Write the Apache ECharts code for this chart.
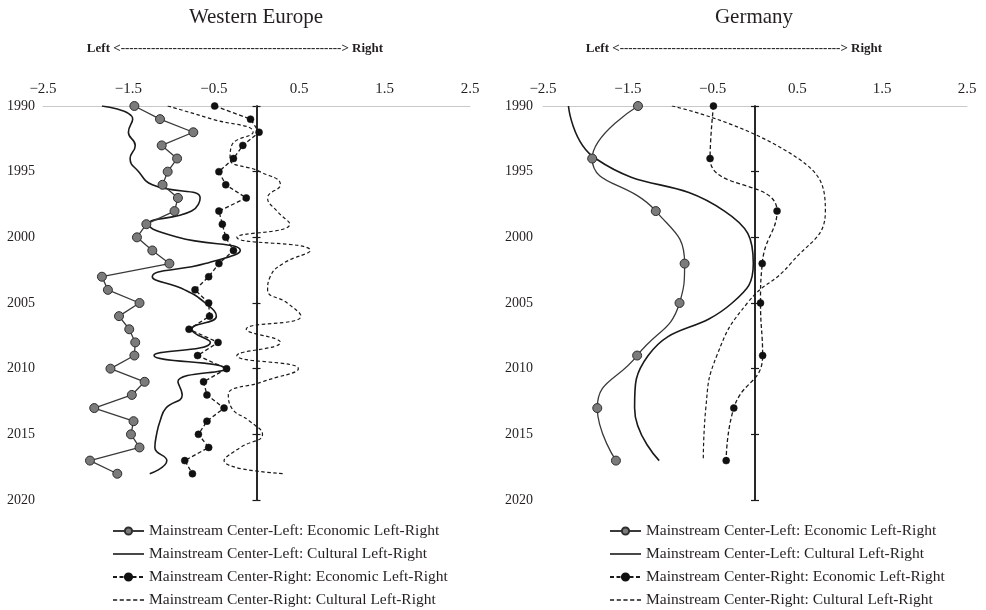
<!DOCTYPE html>
<html><head><meta charset="utf-8">
<script src="https://cdn.jsdelivr.net/npm/echarts@6/dist/echarts.min.js"></script>
<style>html,body{margin:0;padding:0;background:#fff}#c{width:986px;height:610px}</style>
</head><body><div id="c"></div>
<script>
// ---- data ----
const weYears = [1990,1991,1992,1993,1994,1995,1996,1997,1998,1999,2000,2001,2002,2003,2004,2005,2006,2007,2008,2009,2010,2011,2012,2013,2014,2015,2016,2017,2018];
const weCLecon = [-1.43,-1.13,-0.74,-1.11,-0.93,-1.04,-1.10,-0.92,-0.96,-1.29,-1.40,-1.22,-1.02,-1.81,-1.74,-1.37,-1.61,-1.49,-1.42,-1.43,-1.71,-1.31,-1.46,-1.90,-1.44,-1.47,-1.37,-1.95,-1.63];
const weCLcult = [-1.81,-1.45,-1.50,-1.42,-1.48,-1.38,-1.22,-0.66,-0.76,-1.26,-0.92,-0.19,-0.60,-1.22,-0.84,-0.60,-0.47,-0.76,-0.54,-1.20,-0.37,-0.92,-0.87,-1.06,-1.13,-1.17,-1.19,-1.05,-1.25];
const weCRecon = [-0.49,-0.07,0.03,-0.16,-0.27,-0.44,-0.36,-0.12,-0.44,-0.40,-0.36,-0.27,-0.44,-0.56,-0.72,-0.56,-0.55,-0.79,-0.45,-0.69,-0.35,-0.62,-0.58,-0.38,-0.58,-0.68,-0.56,-0.84,-0.75];
const weCRcult = [-1.04,-0.52,-0.04,-0.29,-0.31,0.04,0.28,0.13,0.24,0.39,-0.23,0.63,0.31,0.16,0.13,0.36,0.52,-0.12,0.28,-0.23,0.49,0.07,-0.33,-0.29,-0.08,0.07,-0.19,-0.38,0.33];

const deYears = [1990,1994,1998,2002,2005,2009,2013,2017];
const deCLecon = [-1.38,-1.92,-1.17,-0.83,-0.89,-1.39,-1.86,-1.64];
const deCLcult = [-2.20,-1.88,-0.36,-0.02,-0.27,-1.26,-1.42,-1.13];
const deCRecon = [-0.49,-0.53,0.26,0.085,0.065,0.09,-0.25,-0.34];
const deCRcult = [-0.98,0.51,0.83,0.42,-0.09,-0.45,-0.58,-0.61];

const panelTitles = ['Western Europe','Germany'];
const seriesNames = [
  'Mainstream Center-Left: Economic Left-Right',
  'Mainstream Center-Left: Cultural Left-Right',
  'Mainstream Center-Right: Economic Left-Right',
  'Mainstream Center-Right: Cultural Left-Right'
];
const xTickLabels = {'-2.5':'−2.5','-1.5':'−1.5','-0.5':'−0.5','0.5':'0.5','1.5':'1.5','2.5':'2.5'};
const directionLabel = 'Left <---------------------------------------------------> Right';

// ---- chart ----
const FONT = '"Liberation Serif", "DejaVu Serif", serif';
const INK = '#231f20';
const chart = echarts.init(document.getElementById('c'), null, {renderer:'canvas'});
const pairs = (vals, yrs) => vals.map((v,i) => [v, yrs[i]]);

const grids = [
  {left: 43, right: 516, top: 106, bottom: 110},
  {left: 543, right: 19, top: 106, bottom: 110}
];
const xAxes = [0,1].map(g => ({
  gridIndex: g, type: 'value', position: 'top', min: -2.5, max: 2.5, interval: 0.5,
  axisLine: {show: true, onZero: false, lineStyle: {color: '#c9c9c9', width: 1}},
  axisTick: {show: false}, splitLine: {show: false},
  axisLabel: {
    show: true, margin: 9, fontFamily: FONT, fontSize: 15, color: INK,
    showMinLabel: true, showMaxLabel: true,
    formatter: v => { const k = String(Math.round(v*10)/10); return xTickLabels[k] || ''; }
  }
}));
const yAxes = [];
[0,1].forEach(g => {
  yAxes.push({
    gridIndex: g, type: 'value', position: 'left', inverse: true, min: 1990, max: 2020, interval: 5,
    axisLine: {show: false, onZero: false}, axisTick: {show: false}, splitLine: {show: false},
    axisLabel: {margin: g === 0 ? 8 : 10, fontFamily: FONT, fontSize: 14, color: INK, formatter: v => String(v)}
  });
  [false, true].forEach(inside => yAxes.push({
    gridIndex: g, type: 'value', position: 'left', inverse: true, min: 1990, max: 2020, interval: 5,
    axisLine: {show: true, onZero: true, onZeroAxisIndex: g, lineStyle: {color: '#1a1a1a', width: 1.5}},
    axisTick: {show: true, inside: inside, length: 4, lineStyle: {color: '#1a1a1a', width: 1.2}},
    axisLabel: {show: false}, splitLine: {show: false}
  }));
});

function makeSeries(g, yrs, clE, clC, crE, crC, smoothEcon) {
  const yIdx = g * 3;
  return [
    {name: seriesNames[0], type: 'line', xAxisIndex: g, yAxisIndex: yIdx, data: pairs(clE, yrs),
     smooth: smoothEcon, symbol: 'circle', symbolSize: 9, z: 4,
     itemStyle: {color: '#7b7b7b', borderColor: '#2e2e2e', borderWidth: 1},
     lineStyle: {color: '#3a3a3a', width: 1.3, type: 'solid'}},
    {name: seriesNames[1], type: 'line', xAxisIndex: g, yAxisIndex: yIdx, data: pairs(clC, yrs),
     smooth: true, showSymbol: false, symbol: 'none', z: 3,
     itemStyle: {color: '#1a1a1a'},
     lineStyle: {color: '#1a1a1a', width: 1.6, type: 'solid'}},
    {name: seriesNames[2], type: 'line', xAxisIndex: g, yAxisIndex: yIdx, data: pairs(crE, yrs),
     smooth: smoothEcon, symbol: 'circle', symbolSize: 7, z: 4,
     itemStyle: {color: '#111', borderColor: '#111', borderWidth: 0.5},
     lineStyle: {color: '#1a1a1a', width: 1.3, type: [4, 2.5]}},
    {name: seriesNames[3], type: 'line', xAxisIndex: g, yAxisIndex: yIdx, data: pairs(crC, yrs),
     smooth: true, showSymbol: false, symbol: 'none', z: 3,
     itemStyle: {color: '#1a1a1a'},
     lineStyle: {color: '#1a1a1a', width: 1.2, type: [3.5, 2.5]}}
  ];
}

const series = [].concat(
  makeSeries(0, weYears, weCLecon, weCLcult, weCRecon, weCRcult, false),
  makeSeries(1, deYears, deCLecon, deCLcult, deCRecon, deCRcult, true)
);

const solidIcon = 'path://M0,0h31v1.6h-31z';
const dashIcon = 'path://M0,0h4v1.3h-4zM6.5,0h4v1.3h-4zM13,0h4v1.3h-4zM19.5,0h4v1.3h-4zM26,0h4v1.3h-4z';
const legendData = [
  {name: seriesNames[0]},
  {name: seriesNames[1], icon: solidIcon},
  {name: seriesNames[2]},
  {name: seriesNames[3], icon: dashIcon}
];
const legendBase = {
  orient: 'vertical', top: 523, height: 150, padding: 0, itemWidth: 31, itemHeight: 9, itemGap: 7,
  selectedMode: false, data: legendData,
  textStyle: {fontFamily: FONT, fontSize: 15.5, color: INK}
};

chart.setOption({
  animation: false,
  backgroundColor: '#fff',
  grid: grids,
  xAxis: xAxes,
  yAxis: yAxes,
  series: series,
  legend: [Object.assign({left: 112}, legendBase), Object.assign({left: 609}, legendBase)],
  graphic: [
    {type: 'text', x: 256, y: 17, style: {text: panelTitles[0], align: 'center', verticalAlign: 'middle', font: '21px ' + FONT, fill: INK}},
    {type: 'text', x: 754, y: 17, style: {text: panelTitles[1], align: 'center', verticalAlign: 'middle', font: '21px ' + FONT, fill: INK}},
    {type: 'text', x: 235, y: 49, style: {text: directionLabel, align: 'center', verticalAlign: 'middle', font: 'bold 13px ' + FONT, fill: INK}},
    {type: 'text', x: 734, y: 49, style: {text: directionLabel, align: 'center', verticalAlign: 'middle', font: 'bold 13px ' + FONT, fill: INK}}
  ]
});
</script>
</body></html>
